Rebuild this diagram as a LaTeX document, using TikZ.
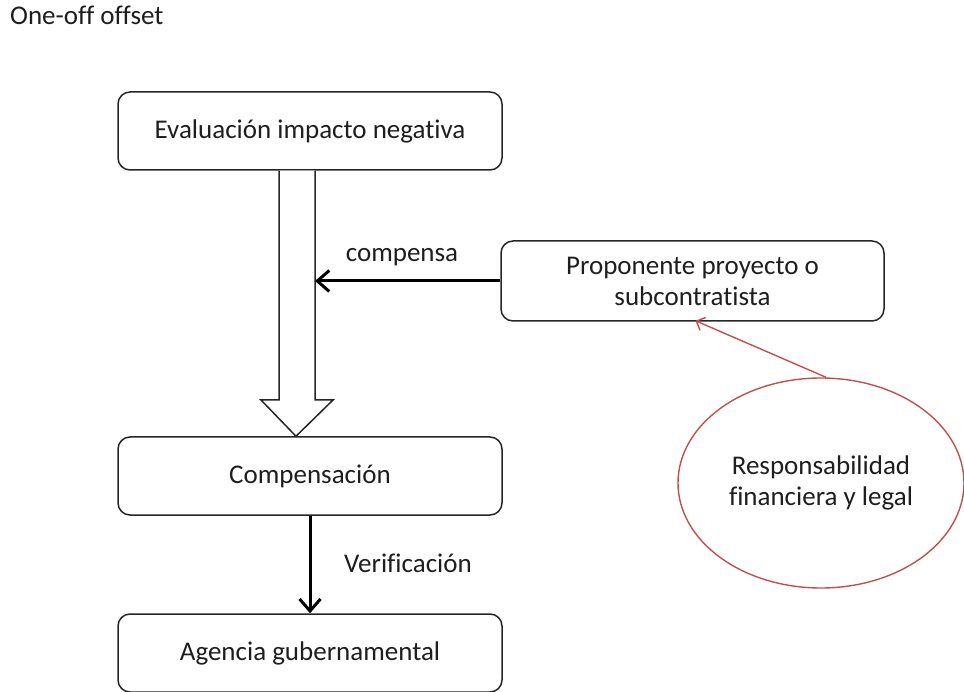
\documentclass[tikz,border=0pt]{standalone}
\usepackage{fontspec}
\setmainfont[Ligatures=NoCommon]{Carlito}
\usetikzlibrary{arrows.meta,shapes.geometric,calc}
\definecolor{ovalred}{RGB}{192,80,77}
\definecolor{txt}{RGB}{30,30,30}
\begin{document}
\begin{tikzpicture}[x=1pt,y=-1pt,
  every node/.style={font=\fontsize{27}{31}\selectfont, text=txt},
  stepbox/.style={draw=black!85, line width=1.5pt, rounded corners=12pt,
    minimum width=384pt, minimum height=78pt, inner sep=0pt, align=center},
  oval/.style={draw=ovalred, line width=1.4pt, ellipse, minimum width=286pt,
    minimum height=210pt, inner sep=0pt, align=center},
  flow/.style={line width=3pt, -{Straight Barb[length=12pt,width=21pt,line width=3pt]}},
  redlink/.style={draw=ovalred, line width=1.4pt, -{Straight Barb[length=7pt,width=14pt]}},
  hollow/.style={draw=black!85, line width=1.5pt, fill=white, line join=miter}
]
\useasboundingbox (0,0) rectangle (964,692);

% heading
\node[anchor=base west, inner sep=0pt] (title) at (10,25) {One-off offset};

% boxes
\node[stepbox] (eval) at (310,131) {Evaluación impacto negativa};
\node[stepbox, minimum width=383pt, minimum height=80pt] (prop) at (692.5,281)
  {Proponente proyecto o\\subcontratista};
\node[stepbox] (comp) at (310,476) {Compensación};
\node[stepbox] (agen) at (310,653) {Agencia gubernamental};

% responsibility oval
\node[oval] (resp) at (821,483) {Responsabilidad\\financiera y legal};

% hollow block arrow from the assessment down to the offset
\coordinate (sl) at ([xshift=-31pt]eval.south);
\coordinate (sr) at ([xshift=5pt]eval.south);
\coordinate (tip) at ([xshift=-14pt]comp.north);
\draw[hollow] (sl) -- (sl |- 0,400) -- ([xshift=-49pt]comp.north |- 0,400) -- (tip)
  -- ([xshift=23pt]comp.north |- 0,400) -- (sr |- 0,400) -- (sr);

% compensa
\draw[flow] (prop.west) -- (prop.west -| sr);
\node[anchor=base] (lcomp) at (402,262) {compensa};

% Verificación
\draw[flow] (comp.south) -- (agen.north);
\node[anchor=base] (lver) at (408,572) {Verificación};

% responsibility link
\draw[redlink] ([xshift=5pt]resp.north) -- ([xshift=3pt,yshift=1pt]prop.south);
\end{tikzpicture}
\end{document}
